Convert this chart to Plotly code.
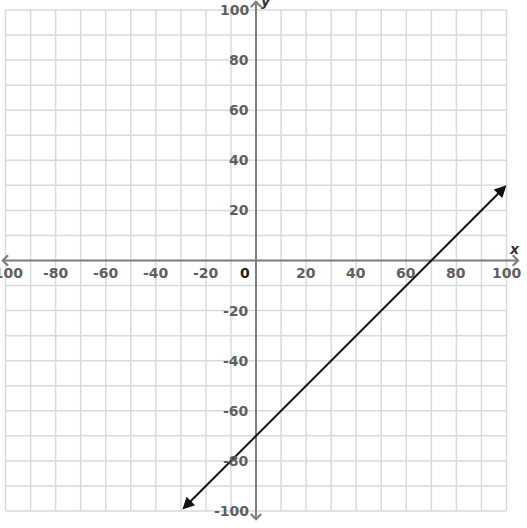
import plotly.graph_objects as go

# grid / tick values
grid_vals = list(range(-100, 101, 10))
tick_vals = [-100, -80, -60, -40, -20, 20, 40, 60, 80, 100]
tick_text = ["-100", "-80", "-60", "-40", "-20", "20", "40", "60", "80", "100"]

# the graphed line y = x - 70, drawn between its two arrow tips
line_x = [-30, 100]
line_y = [-100, 30]

# axis extents (arrow tips)
x_axis_ends = [-102.3, 105.2]
y_axis_ends = [-104.5, 103.9]

GRID = "#d9d9d9"
AXIS = "#7f7f7f"
LABEL = "#5f5f5f"
FONT = "DejaVu Sans, Verdana, sans-serif"

fig = go.Figure()

# grid lines
gx, gy = [], []
for v in grid_vals:
    gx += [v, v, None]
    gy += [-100, 100, None]
    gx += [-100, 100, None]
    gy += [v, v, None]
fig.add_trace(go.Scatter(x=gx, y=gy, mode="lines", line=dict(color=GRID, width=1.5),
                         hoverinfo="skip", showlegend=False))

annotations = []

# axes with arrowheads at both ends
annotations.append(dict(x=x_axis_ends[1], y=0, ax=x_axis_ends[0], ay=0,
                        xref="x", yref="y", axref="x", ayref="y", text="",
                        showarrow=True, arrowside="end+start", arrowhead=4,
                        arrowsize=1.0, arrowwidth=2, arrowcolor=AXIS))
annotations.append(dict(x=0, y=y_axis_ends[1], ax=0, ay=y_axis_ends[0],
                        xref="x", yref="y", axref="x", ayref="y", text="",
                        showarrow=True, arrowside="end+start", arrowhead=4,
                        arrowsize=1.0, arrowwidth=2, arrowcolor=AXIS))

# the line
annotations.append(dict(x=line_x[1], y=line_y[1], ax=line_x[0], ay=line_y[0],
                        xref="x", yref="y", axref="x", ayref="y", text="",
                        showarrow=True, arrowside="end+start", arrowhead=2,
                        arrowsize=1.2, arrowwidth=2, arrowcolor="#111111"))

# tick labels
for v, t in zip(tick_vals, tick_text):
    annotations.append(dict(x=v, y=0, xref="x", yref="y", text=t, showarrow=False,
                            yshift=-13, font=dict(family=FONT, size=14, color=LABEL)))
    annotations.append(dict(x=0, y=v, xref="x", yref="y", text=t, showarrow=False,
                            xanchor="right", xshift=-5,
                            font=dict(family=FONT, size=14, color=LABEL)))
annotations.append(dict(x=0, y=0, xref="x", yref="y", text="0", showarrow=False,
                        xanchor="right", xshift=-4, yshift=-13,
                        font=dict(family=FONT, size=14, color="#222222")))

# axis names
annotations.append(dict(x=103.2, y=4.5, xref="x", yref="y", text="<i>x</i>",
                        showarrow=False, font=dict(family=FONT, size=14, color="#333333")))
annotations.append(dict(x=3.8, y=103.4, xref="x", yref="y", text="<i>y</i>",
                        showarrow=False, font=dict(family=FONT, size=14, color="#333333")))

fig.update_layout(
    width=527, height=528,
    margin=dict(l=0, r=0, t=0, b=0),
    paper_bgcolor="white", plot_bgcolor="white",
    xaxis=dict(range=[-102.2, 108.18], visible=False, fixedrange=True),
    yaxis=dict(range=[-106.79, 103.99], visible=False, fixedrange=True),
    annotations=annotations,
    font=dict(family=FONT, weight="bold"),
    showlegend=False,
)

fig.write_html("out.html", config={"displayModeBar": False},
               post_script="document.body.style.margin='0';")
